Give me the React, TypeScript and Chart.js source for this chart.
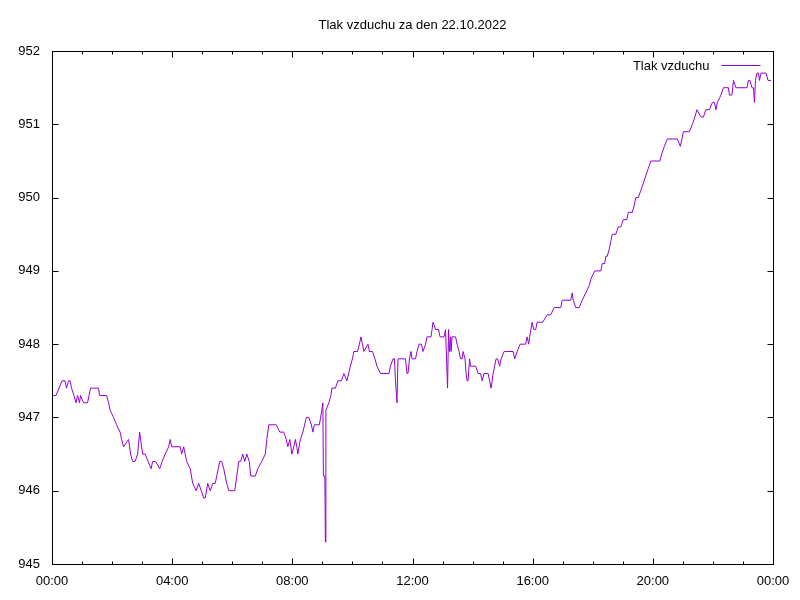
import React, { useEffect, useRef } from "react";
import { Chart, registerables } from "chart.js";

Chart.register(...registerables);

const TITLE = "Tlak vzduchu za den 22.10.2022";
const SERIES_NAME = "Tlak vzduchu";
const LINE_COLOR = "#9400D3";
const FONT_FAMILY = "'Liberation Sans', Arial, sans-serif";
const FONT_SIZE = 13;

// time of day in minutes since 00:00
const minutes = [
  0, 8, 14, 20, 26, 29, 33, 36, 39, 44, 48, 51, 55, 57, 63, 71, 74, 77, 93, 95,
  109, 113, 116, 123, 129, 136, 139, 143, 153, 157, 161, 166, 171, 175, 181, 186, 192, 198, 201, 207,
  215, 220, 226, 233, 236, 239, 256, 259, 263, 269, 276, 281, 288, 293, 298, 303, 306, 311, 316, 321,
  326, 329, 332, 335, 339, 343, 346, 349, 353, 365, 369, 373, 377, 381, 385, 389, 394, 397, 406, 411,
  419, 426, 429, 433, 448, 455, 463, 468, 471, 475, 479, 483, 486, 489, 491, 496, 501, 508, 513, 518,
  521, 524, 534, 539, 541, 542, 545, 546, 547, 553, 557, 559, 566, 571, 578, 583, 589, 596, 600, 603,
  610, 614, 617, 620, 623, 631, 634, 640, 645, 649, 656, 673, 676, 681, 684, 686, 689, 691, 706, 709,
  711, 714, 717, 719, 726, 729, 733, 738, 741, 746, 749, 757, 759, 761, 766, 772, 775, 783, 786, 788,
  790, 792, 794, 796, 797, 799, 806, 809, 813, 816, 819, 821, 825, 827, 829, 831, 834, 836, 846, 851,
  856, 859, 863, 871, 874, 877, 881, 884, 887, 890, 894, 897, 903, 908, 921, 924, 929, 935, 946, 949,
  952, 954, 959, 962, 966, 969, 980, 989, 996, 1003, 1016, 1019, 1036, 1039, 1041, 1046, 1053, 1059, 1066, 1073,
  1077, 1084, 1096, 1099, 1104, 1106, 1109, 1113, 1116, 1119, 1126, 1131, 1136, 1141, 1148, 1151, 1159, 1163, 1166, 1171,
  1176, 1181, 1186, 1191, 1196, 1214, 1218, 1223, 1229, 1249, 1255, 1261, 1273, 1279, 1284, 1288, 1296, 1301, 1306, 1313,
  1319, 1323, 1326, 1329, 1336, 1341, 1351, 1353, 1358, 1361, 1366, 1388, 1391, 1394, 1398, 1401, 1403, 1405, 1408, 1411,
  1413, 1416, 1426, 1430, 1436,
];

// air pressure (hPa)
const pressure = [
  947.3, 947.3, 947.4, 947.5, 947.5, 947.4, 947.5, 947.5, 947.4, 947.3, 947.2, 947.3, 947.2, 947.3, 947.2, 947.2, 947.3, 947.4, 947.4, 947.3,
  947.3, 947.2, 947.1, 947.0, 946.9, 946.8, 946.7, 946.6, 946.7, 946.5, 946.4, 946.4, 946.5, 946.8, 946.5, 946.5, 946.4, 946.3, 946.4, 946.4,
  946.3, 946.4, 946.5, 946.6, 946.7, 946.6, 946.6, 946.5, 946.6, 946.4, 946.3, 946.1, 946.0, 946.1, 946.0, 945.9, 945.9, 946.1, 946.0, 946.1,
  946.1, 946.2, 946.3, 946.4, 946.4, 946.3, 946.2, 946.1, 946.0, 946.0, 946.2, 946.4, 946.4, 946.5, 946.4, 946.5, 946.4, 946.2, 946.2, 946.3,
  946.4, 946.5, 946.7, 946.9, 946.9, 946.8, 946.8, 946.7, 946.6, 946.7, 946.5, 946.6, 946.7, 946.6, 946.5, 946.7, 946.8, 947.0, 947.0, 946.9,
  946.8, 946.9, 946.9, 947.1, 947.2, 946.2, 946.2, 945.3, 947.1, 947.2, 947.3, 947.4, 947.4, 947.5, 947.5, 947.6, 947.5, 947.7, 947.8, 947.9,
  947.9, 948.0, 948.1, 948.0, 947.9, 948.0, 947.9, 947.9, 947.8, 947.7, 947.6, 947.6, 947.7, 947.8, 947.8, 947.5, 947.2, 947.8, 947.8, 947.6,
  947.6, 947.8, 947.9, 947.8, 947.8, 947.9, 948.0, 948.0, 947.9, 948.0, 948.1, 948.1, 948.2, 948.3, 948.2, 948.2, 948.1, 948.1, 948.2, 947.8,
  947.4, 948.2, 947.9, 948.1, 947.9, 948.1, 948.1, 948.0, 947.9, 947.8, 947.8, 947.9, 947.8, 947.6, 947.5, 947.5, 947.8, 947.7, 947.7, 947.6,
  947.6, 947.5, 947.6, 947.6, 947.5, 947.4, 947.6, 947.7, 947.8, 947.8, 947.7, 947.8, 947.9, 947.9, 947.9, 947.8, 947.9, 948.0, 948.0, 948.1,
  948.0, 948.1, 948.3, 948.2, 948.2, 948.3, 948.3, 948.4, 948.4, 948.5, 948.5, 948.6, 948.6, 948.7, 948.6, 948.5, 948.5, 948.6, 948.7, 948.8,
  948.9, 949.0, 949.0, 949.1, 949.1, 949.2, 949.2, 949.3, 949.4, 949.5, 949.5, 949.6, 949.6, 949.7, 949.7, 949.8, 949.8, 949.9, 950.0, 950.0,
  950.1, 950.2, 950.3, 950.4, 950.5, 950.5, 950.6, 950.7, 950.8, 950.8, 950.7, 950.9, 950.9, 951.0, 951.1, 951.2, 951.1, 951.1, 951.2, 951.2,
  951.3, 951.3, 951.2, 951.3, 951.4, 951.5, 951.5, 951.4, 951.4, 951.6, 951.5, 951.5, 951.6, 951.6, 951.5, 951.5, 951.3, 951.6, 951.7, 951.7,
  951.6, 951.7, 951.7, 951.6, 951.6,
];

const Y_MIN = 945;
const Y_MAX = 952;
const X_MIN = 0;
const X_MAX = 1440;
const X_MAJOR_STEP = 240;
const X_MINOR_STEP = 60;
const yTickValues = [945, 946, 947, 948, 949, 950, 951, 952];

const fmtTime = (m: number) => {
  const h = Math.floor((m % 1440) / 60);
  const mm = Math.round(m % 60);
  return String(h).padStart(2, "0") + ":" + String(mm).padStart(2, "0");
};

const framePlugin = {
  id: "gnuFrame",
  afterDatasetsDraw(chart: any) {
    const { ctx, chartArea, scales } = chart;
    const xs = scales.x;
    const ys = scales.y;
    const L = Math.round(chartArea.left) + 0.5;
    const R = Math.round(chartArea.right) + 0.5;
    const T = Math.round(chartArea.top) + 0.5;
    const B = Math.round(chartArea.bottom) + 0.5;
    ctx.save();
    ctx.strokeStyle = "#000";
    ctx.lineWidth = 1;
    ctx.beginPath();
    for (const v of yTickValues) {
      const py = Math.round(ys.getPixelForValue(v)) + 0.5;
      ctx.moveTo(L, py);
      ctx.lineTo(L + 6, py);
      ctx.moveTo(R, py);
      ctx.lineTo(R - 6, py);
    }
    for (let m = X_MIN; m <= X_MAX; m += X_MINOR_STEP) {
      const px = Math.round(xs.getPixelForValue(m)) + 0.5;
      const len = m % X_MAJOR_STEP === 0 ? 6 : 3;
      ctx.moveTo(px, B);
      ctx.lineTo(px, B - len);
      ctx.moveTo(px, T);
      ctx.lineTo(px, T + len);
    }
    ctx.stroke();
    ctx.strokeRect(L, T, R - L, B - T);

    // key (legend) in the top-right corner, gnuplot style
    const lineRight = R - 13;
    const lineLeft = lineRight - 39;
    const ly = T + 14;
    ctx.font = FONT_SIZE + "px " + FONT_FAMILY;
    ctx.fillStyle = "#000";
    ctx.textAlign = "right";
    ctx.textBaseline = "middle";
    ctx.fillText(SERIES_NAME, lineLeft - 12, ly + 1);
    ctx.strokeStyle = LINE_COLOR;
    ctx.beginPath();
    ctx.moveTo(lineLeft, ly);
    ctx.lineTo(lineRight, ly);
    ctx.stroke();
    ctx.restore();
  },
};

export default function App() {
  const canvasRef = useRef<HTMLCanvasElement | null>(null);

  useEffect(() => {
    if (!canvasRef.current) return;
    Chart.defaults.font.family = FONT_FAMILY;
    Chart.defaults.font.size = FONT_SIZE;
    Chart.defaults.color = "#000";
    const data = minutes.map((m, i) => ({ x: m, y: pressure[i] }));
    const chart = new Chart(canvasRef.current, {
      type: "line",
      data: {
        datasets: [
          {
            label: SERIES_NAME,
            data,
            borderColor: LINE_COLOR,
            backgroundColor: LINE_COLOR,
            borderWidth: 1,
            pointRadius: 0,
            tension: 0,
            fill: false,
          },
        ],
      },
      plugins: [framePlugin],
      options: {
        animation: false,
        responsive: false,
        maintainAspectRatio: false,
        devicePixelRatio: 1,
        layout: { padding: { left: 0, right: 27, top: 0, bottom: 0 } },
        plugins: {
          legend: { display: false },
          tooltip: { enabled: false },
          title: {
            display: true,
            text: TITLE,
            fullSize: false,
            color: "#000",
            font: { size: FONT_SIZE, weight: "normal", family: FONT_FAMILY },
            padding: { top: 18, bottom: 17.5 },
          },
        },
        scales: {
          x: {
            type: "linear",
            min: X_MIN,
            max: X_MAX,
            grid: { display: false, drawTicks: false },
            border: { display: false },
            ticks: {
              stepSize: X_MAJOR_STEP,
              autoSkip: false,
              maxRotation: 0,
              padding: 10,
              callback: (v: any) => fmtTime(Number(v)),
            },
            afterFit: (s: any) => {
              s.height = 36;
            },
          },
          y: {
            type: "linear",
            min: Y_MIN,
            max: Y_MAX,
            grid: { display: false, drawTicks: false },
            border: { display: false },
            ticks: { stepSize: 1, padding: 12, callback: (v: any) => String(v) },
            afterFit: (s: any) => {
              s.width = 52;
            },
          },
        },
      },
    });
    return () => chart.destroy();
  }, []);

  return (
    <div style={{ position: "absolute", left: 0, top: 0, width: 800, height: 600, background: "#fff" }}>
      <canvas ref={canvasRef} width={800} height={600} style={{ width: 800, height: 600 }} />
    </div>
  );
}
